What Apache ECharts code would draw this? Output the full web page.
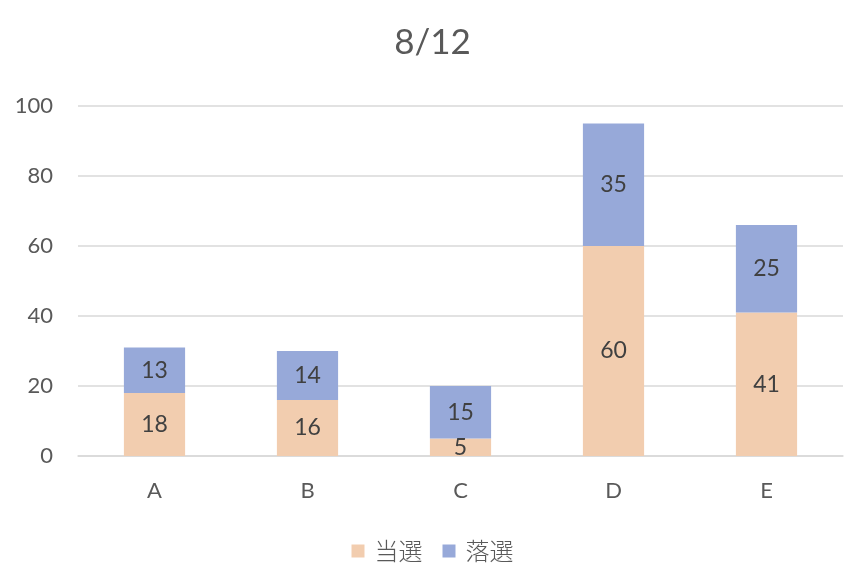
<!DOCTYPE html>
<html><head><meta charset="utf-8">
<script src="https://cdn.jsdelivr.net/npm/echarts@6/dist/echarts.min.js"></script>
<style>html,body{margin:0;padding:0;background:#fff}#c{width:865px;height:586px}</style>
</head><body><div id="c"></div>
<script>
const categories = ['A','B','C','D','E'];
const won = [18,16,5,60,41];
const lost = [13,14,15,35,25];
const seriesNames = ['当選','落選'];
const titleText = '8/12';
const FONT = 'Lato, "Noto Sans CJK JP", sans-serif';
const chart = echarts.init(document.getElementById('c'), null, {renderer:'canvas'});
const lbl = {show:true, position:'inside', color:'#404040', fontSize:23, fontFamily:FONT};
chart.setOption({
  animation:false,
  textStyle:{fontFamily:FONT},
  title:{text:titleText, left:'center', top:20, textStyle:{fontSize:35, fontWeight:'normal', color:'#595959', fontFamily:FONT}},
  legend:{data:seriesNames, bottom:18, left:'center', itemWidth:13, itemHeight:13, itemGap:20, icon:'rect',
    textStyle:{fontSize:24, color:'#595959', fontFamily:'"Noto Sans CJK JP", sans-serif', fontWeight:300, padding:[0,0,0,5]}},
  grid:{left:78, right:22, top:106, bottom:130},
  xAxis:{type:'category', data:categories,
    axisLine:{lineStyle:{color:'#D9D9D9', width:1.5}}, axisTick:{show:false},
    axisLabel:{color:'#595959', fontSize:22, margin:24, fontFamily:FONT}},
  yAxis:{type:'value', min:0, max:100, interval:20,
    axisLine:{show:false}, axisTick:{show:false},
    splitLine:{lineStyle:{color:'#D9D9D9', width:1.5}},
    axisLabel:{color:'#595959', fontSize:22, margin:25, fontFamily:FONT}},
  series:[
    {name:seriesNames[0], type:'bar', stack:'t', data:won, barWidth:'40%', itemStyle:{color:'#F2CDAF'}, label:lbl},
    {name:seriesNames[1], type:'bar', stack:'t', data:lost, barWidth:'40%', itemStyle:{color:'#97A9D9'}, label:lbl}
  ]
});
</script></body></html>
